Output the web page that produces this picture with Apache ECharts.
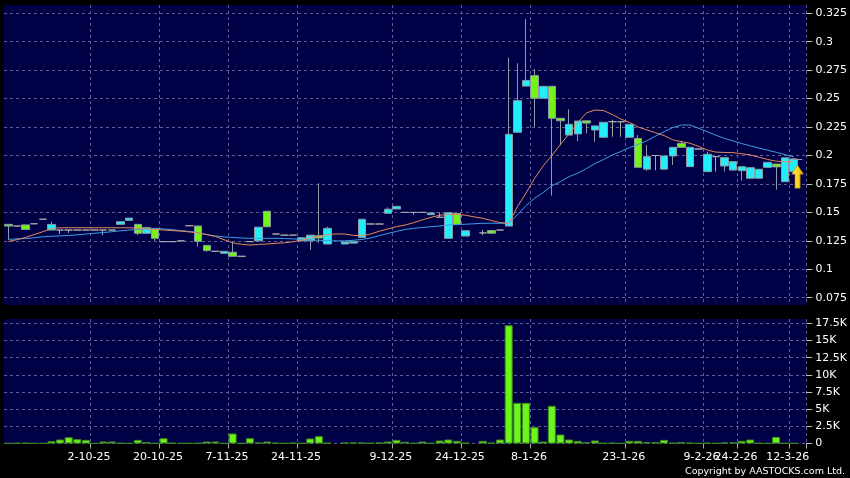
<!DOCTYPE html>
<html><head><meta charset="utf-8">
<script src="https://cdn.jsdelivr.net/npm/echarts@6/dist/echarts.min.js"></script>
<style>html,body{margin:0;padding:0;background:#000;}#c{width:850px;height:478px;}</style>
</head><body><div id="c"></div>
<script>
// ---- data ----
const dateLabels = ['2-10-25','20-10-25','7-11-25','24-11-25','9-12-25','24-12-25','8-1-26','23-1-26','9-2-26','24-2-26','12-3-26'];
const dateLabelIndex = [9,17,25,33,44,52,60,71,80,84,90];
const slotCount = 93;

const opens = [0.1395,0.138,0.139,0.14,0.144,0.1345,0.1345,0.1345,0.1345,0.1345,
0.1345,0.1345,0.1345,0.1395,0.143,0.1395,0.1316,0.1357,0.1243,0.1243,
0.125,0.1383,0.138,0.121,0.1158,0.114,0.115,0.1114,0.1243,0.125,
0.151,0.131,0.13,0.13,0.125,0.125,0.1295,0.1222,null,0.1222,
0.123,0.128,0.1398,0.1398,0.1492,0.153,0.15,0.15,0.15,0.148,
0.1457,0.1272,0.149,0.1292,null,0.132,0.134,0.1345,0.138,0.2204,
0.261,0.2702,0.2503,0.2608,0.2327,0.218,0.219,0.2305,0.2224,0.216,
0.2297,0.2297,0.216,0.215,0.188,0.2,0.188,0.1996,0.2107,0.1902,
0.2057,0.1858,0.199,0.1908,0.1872,0.1867,0.18,0.18,0.1896,0.1925,
0.177,0.1858];
const closes = [0.138,0.138,0.135,0.14,0.144,0.1394,0.1345,0.1345,0.1345,0.1345,
0.1345,0.1345,0.1345,0.1418,0.145,0.1316,0.1366,0.1272,0.1243,0.1243,
0.125,0.1383,0.1246,0.1164,0.1158,0.1158,0.1114,0.1114,0.1243,0.137,
0.1374,0.131,0.13,0.13,0.1277,0.13,0.1275,0.136,null,0.124,
0.1243,0.144,0.1398,0.1398,0.1528,0.1553,0.15,0.15,0.15,0.1495,
0.1457,0.1497,0.1395,0.1339,null,0.132,0.1317,0.1345,0.2186,0.2482,
0.266,0.2503,0.2608,0.2327,0.2305,0.2274,0.2303,0.2285,0.226,0.2292,
0.2297,0.2297,0.2274,0.1896,0.199,0.2,0.1996,0.2072,0.2072,0.2072,
0.2057,0.2011,0.199,0.1981,0.1946,0.1902,0.1893,0.1879,0.194,0.19,
0.198,0.197];
const lows = [0.126,0.138,0.135,0.14,0.144,0.1345,0.131,0.132,0.1345,0.1345,
0.1345,0.130,0.1345,0.1395,0.143,0.130,0.1316,0.125,0.1243,0.1243,
0.125,0.1383,0.120,0.1155,0.1158,0.114,0.1114,0.1114,0.1243,0.125,
0.1369,0.131,0.13,0.13,0.125,0.117,0.1233,0.1222,null,0.1222,
0.123,0.128,0.1398,0.1398,0.1492,0.153,0.15,0.148,0.15,0.148,
0.1457,0.1272,0.1395,0.1292,null,0.13,0.1317,0.1345,0.138,0.2204,
0.261,0.225,0.2503,0.1647,0.209,0.218,0.2127,0.2195,0.212,0.216,
0.2165,0.2165,0.216,0.1896,0.1867,0.187,0.188,0.1917,0.2072,0.1902,
0.2057,0.1858,0.1858,0.1858,0.1872,0.178,0.18,0.18,0.1896,0.17,
0.177,0.1858];
const highs = [0.1395,0.138,0.139,0.14,0.144,0.142,0.1345,0.1345,0.1345,0.1345,
0.1345,0.1345,0.1345,0.1418,0.145,0.1395,0.1366,0.1357,0.1243,0.1243,
0.125,0.1383,0.138,0.121,0.1158,0.1158,0.1243,0.1114,0.1243,0.137,
0.151,0.131,0.13,0.13,0.1277,0.13,0.1756,0.1374,null,0.124,
0.1243,0.144,0.1398,0.1398,0.1545,0.1553,0.15,0.15,0.15,0.1495,
0.15,0.1497,0.149,0.1339,null,0.1345,0.134,0.1345,0.286,0.281,
0.320,0.276,0.2608,0.2608,0.2327,0.2406,0.2303,0.2305,0.226,0.2292,
0.2315,0.2297,0.2274,0.218,0.2092,0.2,0.1996,0.2072,0.213,0.2072,
0.2057,0.2033,0.199,0.1981,0.1946,0.1902,0.1893,0.1879,0.194,0.1925,
0.198,0.1981];
const volumes = [40,80,80,30,30,335,583,920,627,530,
30,290,290,60,30,530,190,40,770,100,
30,40,60,290,290,40,1460,40,770,150,
290,100,40,100,40,730,1065,100,null,150,
150,150,60,150,290,530,250,50,290,60,
440,580,390,100,null,390,100,580,17220,5925,
5925,2380,290,5490,1310,580,390,190,440,60,
100,40,390,390,190,190,530,100,190,100,
40,80,40,150,150,390,580,80,40,970,
50,40];
const maShort = [0.1245,0.126,0.128,0.1305,0.133,0.1358,0.1365,0.1365,0.1365,0.1365,
0.1365,0.1365,0.1365,0.1365,0.1365,0.1362,0.1355,0.135,0.1345,0.134,
0.1335,0.1328,0.132,0.1305,0.1288,0.126,0.1233,0.122,0.1213,0.1218,
0.1222,0.1228,0.1233,0.1242,0.1257,0.1275,0.129,0.1305,0.131,0.131,
0.1298,0.1295,0.131,0.1335,0.1355,0.1375,0.139,0.141,0.1435,0.1457,
0.1475,0.1483,0.1483,0.1475,0.146,0.1448,0.1428,0.141,0.1405,0.155,
0.167,0.18,0.191,0.2,0.21,0.219,0.229,0.2375,0.24,0.2395,
0.236,0.232,0.229,0.225,0.2225,0.22,0.2175,0.2138,0.2122,0.2108,
0.208,0.2048,0.203,0.2027,0.2025,0.2015,0.2005,0.1985,0.1965,0.195,
0.1946,0.1946];
const maLong = [0.1263,0.1267,0.127,0.1277,0.1285,0.129,0.1293,0.1298,0.1303,0.131,
0.1317,0.1323,0.133,0.1338,0.1345,0.135,0.1355,0.1358,0.1355,0.1348,
0.134,0.1333,0.132,0.1305,0.1292,0.1285,0.128,0.1275,0.1272,0.1272,
0.1272,0.1272,0.127,0.1267,0.1262,0.1258,0.1255,0.1252,0.125,0.125,
0.1255,0.1263,0.1275,0.1295,0.1315,0.1333,0.135,0.136,0.1367,0.1374,
0.138,0.139,0.1393,0.1396,0.14,0.1404,0.1405,0.1404,0.1404,0.148,
0.156,0.1625,0.1675,0.1735,0.177,0.1815,0.1845,0.1885,0.193,0.1965,
0.2005,0.2035,0.207,0.2098,0.213,0.217,0.221,0.2245,0.2268,0.2268,
0.224,0.2209,0.2178,0.215,0.2128,0.2105,0.2085,0.2065,0.2047,0.2028,
0.2008,0.199];
const priceTicks = [0.075,0.1,0.125,0.15,0.175,0.2,0.225,0.25,0.275,0.3,0.325];
const volumeTicks = [0,2500,5000,7500,10000,12500,15000,17500];

// ---- build ----
const categories = Array.from({length: slotCount}, (_, i) => String(i));
const candleData = opens.map((o, i) => o == null ? '-' : [o, closes[i], lows[i], highs[i]]);
const volData = volumes.map(v => v == null ? '-' : v);
const lastIdx = closes.length - 1;
const lastClose = closes[lastIdx];
const labelSet = new Set(dateLabelIndex);
const gridSet = new Set(dateLabelIndex.map(i => i + 1));

const navy = '#000046';
const gridLine = {show: true, lineStyle: {color: '#5c5c90', type: [3, 3], width: 1}};
const FONT = 'DejaVu Sans';

const chart = echarts.init(document.getElementById('c'), null, {renderer: 'canvas'});
chart.setOption({
  animation: false,
  backgroundColor: '#000',
  grid: [
    {left: 4, right: 42, top: 5, height: 300, show: true, backgroundColor: navy, borderWidth: 0},
    {left: 4, right: 42, top: 319, height: 124.5, show: true, backgroundColor: navy, borderWidth: 0}
  ],
  xAxis: [
    {type: 'category', gridIndex: 0, data: categories, boundaryGap: true,
     axisLine: {show: false}, axisTick: {show: false}, axisLabel: {show: false},
     splitLine: Object.assign({interval: (i) => gridSet.has(i)}, gridLine)},
    {type: 'category', gridIndex: 1, data: categories, boundaryGap: true,
     axisLine: {show: false},
     axisTick: {show: true, interval: (i) => gridSet.has(i), length: 5, lineStyle: {color: '#aaaaaa'}},
     axisLabel: {show: true, interval: (i) => labelSet.has(i), color: '#ffffff', fontSize: 11,
       fontFamily: FONT, margin: 8, padding: [0, 0, 0, 6],
       formatter: (v, i) => { const k = dateLabelIndex.indexOf(i); return k >= 0 ? dateLabels[k] : ''; }},
     splitLine: Object.assign({interval: (i) => gridSet.has(i)}, gridLine)}
  ],
  yAxis: [
    {type: 'value', gridIndex: 0, position: 'right', min: 0.0686, max: 0.3323, scale: true,
     axisLine: {show: false},
     axisTick: {show: true, length: 6, customValues: priceTicks, lineStyle: {color: '#bbbbbb'}},
     axisLabel: {customValues: priceTicks, color: '#ffffff', fontSize: 11, fontFamily: FONT, margin: 9,
       formatter: (v) => String(+(+v).toFixed(3))},
     splitLine: gridLine},
    {type: 'value', gridIndex: 1, position: 'right', min: 0, max: 18130,
     axisLine: {show: false},
     axisTick: {show: true, length: 6, customValues: volumeTicks, lineStyle: {color: '#bbbbbb'}},
     axisLabel: {customValues: volumeTicks, color: '#ffffff', fontSize: 11, fontFamily: FONT, margin: 9,
       formatter: (v) => v === 0 ? '0' : (v / 1000) + 'K'},
     splitLine: gridLine}
  ],
  series: [
    {type: 'candlestick', xAxisIndex: 0, yAxisIndex: 0, data: candleData, barWidth: 8,
     itemStyle: {color: '#22eefa', color0: '#74f21a', borderColor: '#8a9ca4', borderColor0: '#8a9ca4',
       borderColorDoji: '#a8a8a8', borderWidth: 1},
     markPoint: {silent: true, animation: false,
       symbol: 'path://M6,0 L12,9 L8.6,9 L8.6,23 L3.4,23 L3.4,9 L0,9 Z',
       symbolSize: [12, 23], symbolOffset: [4, 0], label: {show: false},
       itemStyle: {color: new echarts.graphic.LinearGradient(0, 0, 1, 0, [
         {offset: 0, color: '#fff27a'}, {offset: 0.55, color: '#ffd21a'}, {offset: 1, color: '#e39c00'}]),
         borderColor: '#b07a00', borderWidth: 0.5},
       data: [{coord: [lastIdx, 0.1814]}]},
     markLine: {silent: true, symbol: 'none', label: {show: false},
       lineStyle: {color: '#9a9a9a', type: 'solid', width: 1},
       data: [[{coord: [lastIdx, lastClose]}, {coord: [lastIdx + 1, lastClose]}]]}
    },
    {type: 'line', xAxisIndex: 0, yAxisIndex: 0, data: maLong, showSymbol: false, symbol: 'none',
     lineStyle: {color: '#3d9fe6', width: 1}, z: 3},
    {type: 'line', xAxisIndex: 0, yAxisIndex: 0, data: maShort, showSymbol: false, symbol: 'none',
     lineStyle: {color: '#e8885a', width: 1}, z: 3},
    {type: 'bar', xAxisIndex: 1, yAxisIndex: 1, data: volData, barWidth: 8,
     itemStyle: {color: '#6cf51a', borderColor: '#3f8a1a', borderWidth: 1}}
  ],
  graphic: [
    {type: 'text', right: 5, bottom: 1,
     style: {text: 'Copyright by AASTOCKS.com Ltd.', fill: '#ffffff', font: '9.5px "DejaVu Sans"'}}
  ]
});
</script></body></html>
